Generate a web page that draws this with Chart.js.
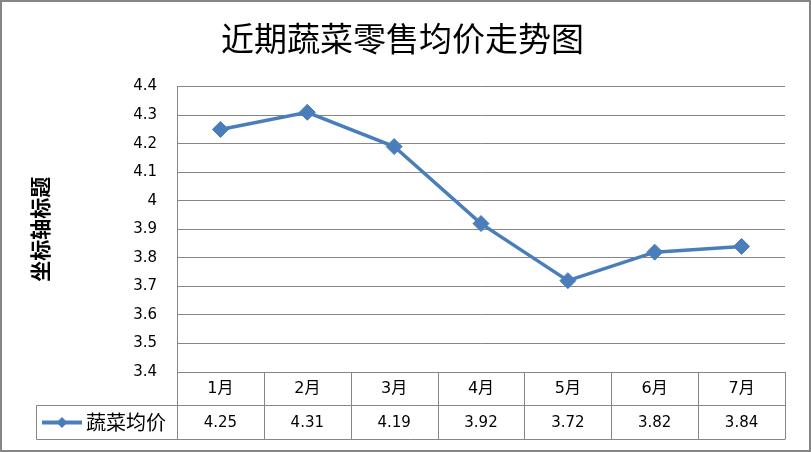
<!DOCTYPE html>
<html>
<head>
<meta charset="utf-8">
<script src="https://cdn.jsdelivr.net/npm/chart.js@4"></script>
<style>
html,body{margin:0;padding:0;background:#fff;}
#wrap{width:811px;height:452px;position:relative;}
</style>
</head>
<body>
<div id="wrap"><canvas id="c" width="811" height="452"></canvas></div>
<script>
const chartTitle = '近期蔬菜零售均价走势图';
const yAxisTitle = '坐标轴标题';
const seriesName = '蔬菜均价';
const categories = ['1月','2月','3月','4月','5月','6月','7月'];
const prices = [4.25, 4.31, 4.19, 3.92, 3.72, 3.82, 3.84];
const yMin = 3.4, yMax = 4.4, yStep = 0.1;

const LINE_COLOR = '#4a7ebb';
const GRID_COLOR = '#868686';
const NUM_FONT = "'DejaVu Sans', 'Noto Sans CJK SC', sans-serif";
const CJK_FONT = "'Noto Sans CJK SC', sans-serif";

const frame = {
  id: 'frame',
  beforeDraw(chart) {
    const ctx = chart.ctx;
    ctx.save();
    ctx.fillStyle = '#fff';
    ctx.fillRect(0, 0, chart.width, chart.height);
    ctx.restore();
  },
  afterDraw(chart) {
    const ctx = chart.ctx;
    ctx.save();
    ctx.strokeStyle = GRID_COLOR;
    ctx.lineWidth = 2;
    ctx.strokeRect(1, 1, chart.width - 2, chart.height - 2);
    ctx.restore();
  }
};

const dataTable = {
  id: 'dataTable',
  afterDraw(chart) {
    const {ctx, scales: {x, y}} = chart;
    const top = Math.round(y.bottom) + 0.5;
    const bottom = Math.round(x.bottom) - 0.5;
    const mid = top + 33;
    const legendLeft = 36.5;
    const p0 = x.getPixelForValue(0), p1 = x.getPixelForValue(1);
    const half = (p1 - p0) / 2;
    ctx.save();
    ctx.strokeStyle = GRID_COLOR;
    ctx.lineWidth = 1;
    ctx.beginPath();
    ctx.moveTo(Math.round(x.left), top); ctx.lineTo(Math.round(x.right), top);
    ctx.moveTo(legendLeft, mid); ctx.lineTo(Math.round(x.right), mid);
    ctx.moveTo(legendLeft, bottom); ctx.lineTo(Math.round(x.right), bottom);
    ctx.moveTo(legendLeft, mid); ctx.lineTo(legendLeft, bottom);
    for (let i = 0; i <= categories.length; i++) {
      const bx = Math.round(x.getPixelForValue(0) - half + i * 2 * half) + 0.5;
      ctx.moveTo(bx, top); ctx.lineTo(bx, bottom);
    }
    ctx.stroke();

    // values row
    const rowY = (mid + bottom) / 2;
    ctx.fillStyle = '#000';
    ctx.font = '15px ' + NUM_FONT;
    ctx.textAlign = 'center';
    ctx.textBaseline = 'middle';
    prices.forEach((v, i) => {
      ctx.fillText(String(v), x.getPixelForValue(i), rowY + 1);
    });

    // legend key
    ctx.strokeStyle = LINE_COLOR;
    ctx.lineWidth = 4;
    ctx.beginPath();
    ctx.moveTo(42, rowY); ctx.lineTo(82, rowY);
    ctx.stroke();
    ctx.fillStyle = LINE_COLOR;
    ctx.beginPath();
    const dx = 62, r = 5.5;
    ctx.moveTo(dx - r, rowY); ctx.lineTo(dx, rowY - r); ctx.lineTo(dx + r, rowY); ctx.lineTo(dx, rowY + r);
    ctx.closePath();
    ctx.fill();
    ctx.fillStyle = '#000';
    ctx.font = '20px ' + CJK_FONT;
    ctx.textAlign = 'left';
    ctx.fillText(seriesName, 86, rowY);
    ctx.restore();
  }
};

new Chart(document.getElementById('c'), {
  type: 'line',
  data: {
    labels: categories,
    datasets: [{
      label: seriesName,
      data: prices,
      borderColor: LINE_COLOR,
      backgroundColor: LINE_COLOR,
      borderWidth: 3.5,
      pointStyle: 'rectRot',
      pointRadius: 8,
      pointBorderWidth: 1,
      pointBackgroundColor: LINE_COLOR,
      pointBorderColor: LINE_COLOR,
      tension: 0,
      fill: false
    }]
  },
  options: {
    responsive: false,
    animation: false,
    devicePixelRatio: 1,
    layout: { padding: { left: 20, right: 26, top: 0, bottom: 12 } },
    plugins: {
      legend: { display: false },
      tooltip: { enabled: false },
      title: {
        display: true,
        text: chartTitle,
        color: '#000',
        font: { family: CJK_FONT, size: 33, weight: 'normal', lineHeight: 1.2 },
        padding: { top: 19, bottom: 28 }
      }
    },
    scales: {
      x: {
        type: 'category',
        offset: true,
        grid: { display: false, drawTicks: false },
        border: { display: true, color: GRID_COLOR, width: 1 },
        ticks: {
          color: '#000',
          font: { family: NUM_FONT, size: 16 },
          padding: 7,
          maxRotation: 0,
          autoSkip: false
        },
        afterFit(scale) { scale.height = 68; }
      },
      y: {
        min: yMin,
        max: yMax,
        grid: { color: GRID_COLOR, lineWidth: 1, drawTicks: false },
        border: { display: true, color: GRID_COLOR, width: 1 },
        ticks: {
          stepSize: yStep,
          color: '#000',
          font: { family: NUM_FONT, size: 15 },
          padding: 20,
          callback: (v) => String(Math.round(v * 10) / 10)
        },
        title: {
          display: true,
          text: yAxisTitle,
          color: '#000',
          font: { family: CJK_FONT, size: 21, weight: 'bold', lineHeight: 1.2 },
          padding: { top: 7, bottom: 0 }
        },
        afterFit(scale) { scale.width = 157; }
      }
    }
  },
  plugins: [frame, dataTable]
});
</script>
</body>
</html>
